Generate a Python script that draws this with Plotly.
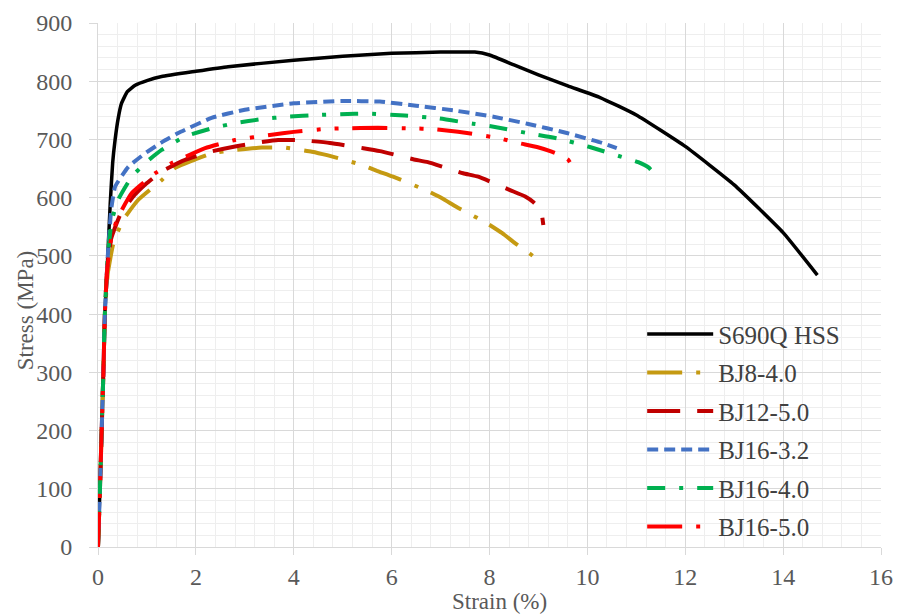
import plotly.graph_objects as go

# ---- data (strain %, stress MPa) ----
s690_x = [0, 0.04, 0.075, 0.11, 0.14, 0.2, 0.25, 0.3, 0.35, 0.41, 0.48, 0.6, 0.76, 1.0, 1.3, 2, 2.66, 4, 5, 6, 7, 7.7, 8, 8.5, 9, 9.6, 10.26, 11, 12, 13, 14, 14.7]
s690_y = [0, 100, 200, 300, 400, 500, 590, 660, 700, 735, 762, 782, 793, 801, 808, 817, 825, 836, 843, 848, 850, 850, 845, 828, 811, 792, 772, 742, 688, 622, 540, 467]

bj8_x = [0, 0.04, 0.075, 0.11, 0.14, 0.2, 0.31, 0.5, 0.82, 1.3, 1.57, 2.0, 2.32, 2.8, 3.35, 3.8, 4.37, 4.68, 5.4, 5.7, 6.03, 6.72, 7.03, 7.33, 7.95, 8.26, 8.52, 8.9, 8.97, 9.01]
bj8_y = [0, 100, 200, 300, 400, 470, 520, 560, 596, 630, 651, 666, 676, 682, 686, 686, 679, 673, 656, 646, 636, 612, 599, 584, 556, 539, 522, 499, 490, 484]

bj12_x = [0, 0.04, 0.075, 0.11, 0.14, 0.19, 0.27, 0.45, 0.7, 1.0, 1.3, 1.78, 2.3, 2.8, 3.3, 3.68, 4.1, 4.74, 5.42, 5.76, 6.44, 6.74, 7.46, 7.77, 8.42, 8.73, 8.9, 9.0, 9.07, 9.1]
bj12_y = [0, 100, 200, 300, 400, 480, 530, 570, 600, 625, 645, 665, 679, 688, 695, 699, 699, 694, 685, 680, 666, 661, 642, 636, 613, 602, 592, 583, 570, 553]

bj163_x = [0, 0.04, 0.075, 0.11, 0.14, 0.2, 0.27, 0.35, 0.62, 0.96, 1.3, 1.64, 2.32, 3.0, 4.0, 5.0, 5.76, 6.5, 7.26, 8.08, 8.77, 9.58, 10.3, 10.6]
bj163_y = [0, 100, 200, 300, 400, 500, 580, 619, 653, 676, 695, 711, 737, 751, 762, 766, 765, 758, 750, 739, 727, 711, 694, 685]

bj164_x = [0, 0.04, 0.075, 0.11, 0.14, 0.2, 0.28, 0.41, 0.69, 1.0, 1.3, 1.78, 2.32, 2.8, 3.35, 3.86, 4.5, 5.25, 5.6, 6.27, 6.97, 7.66, 8.0, 8.77, 9.38, 10.05, 10.7, 11.04, 11.25, 11.36, 11.4]
bj164_y = [0, 100, 200, 300, 400, 500, 560, 596, 636, 662, 682, 705, 719, 728, 735, 739, 742, 744, 744, 741, 736, 727, 723, 711, 702, 687, 670, 661, 652, 642, 628]

bj165_x = [0, 0.04, 0.075, 0.11, 0.14, 0.19, 0.27, 0.4, 0.69, 1.17, 1.5, 2.19, 2.8, 3.55, 4.0, 4.64, 5.0, 5.72, 6.44, 6.8, 7.17, 7.54, 8.2, 8.58, 8.97, 9.27, 9.5, 9.61, 9.68, 9.71]
bj165_y = [0, 100, 200, 300, 400, 480, 530, 565, 608, 642, 659, 685, 699, 708, 713, 718, 719, 720, 719, 718, 715, 711, 702, 694, 687, 679, 671, 665, 655, 645]

series = [
    ("S690Q HSS", s690_x, s690_y, "#000000", "solid", 3.5),
    ("BJ8-4.0", bj8_x, bj8_y, "#C59A12", "35px,14px,4px,14px", 4),
    ("BJ12-5.0", bj12_x, bj12_y, "#C00000", "33px,17px", 4),
    ("BJ16-3.2", bj163_x, bj163_y, "#4472C4", "11px,6px", 4),
    ("BJ16-4.0", bj164_x, bj164_y, "#00B050", "18px,14px,4px,14px", 4),
    ("BJ16-5.0", bj165_x, bj165_y, "#FF0000", "35px,14px,4px,14px,4px,14px", 4),
]

x_ticks = [0, 2, 4, 6, 8, 10, 12, 14, 16]
y_ticks = [0, 100, 200, 300, 400, 500, 600, 700, 800, 900]
x_title = "Strain (%)"
y_title = "Stress (MPa)"

fig = go.Figure()
for i, (name, xs, ys, col, dash, w) in enumerate(series):
    fig.add_trace(go.Scatter(x=xs, y=ys, mode="lines", name=name, legendgroup=f"g{i}",
                             line=dict(color=col, dash=dash, width=w, shape="spline", smoothing=0.4)))

font_family = "Liberation Serif"
grid = "#d9d9d9"
tickfont = dict(family=font_family, size=24, color="#595959")
titlefont = dict(family=font_family, size=23, color="#595959")
fig.update_layout(
    width=898, height=616,
    margin=dict(l=98, r=17, t=23, b=69, autoexpand=False),
    paper_bgcolor="white", plot_bgcolor="white",
    font=dict(family=font_family, size=24, color="#595959"),
    showlegend=True,
    legend=dict(x=0.695, y=0.45, xanchor="left", yanchor="top", bgcolor="rgba(0,0,0,0)",
                traceorder="grouped", tracegroupgap=3, itemwidth=66,
                font=dict(family=font_family, size=25, color="#404040")),
    xaxis=dict(range=[0, 16], tickvals=x_ticks, ticktext=[str(v) for v in x_ticks],
               showgrid=True, gridcolor=grid, gridwidth=1.3, automargin=False,
               minor=dict(dtick=0.4, showgrid=True, gridcolor="#eeeeee", gridwidth=1),
               ticks="outside", ticklen=7, tickcolor=grid, showline=True, linecolor=grid,
               zeroline=False, ticklabelstandoff=1, tickfont=tickfont),
    yaxis=dict(range=[0, 900], tickvals=y_ticks, ticktext=[str(v) for v in y_ticks],
               showgrid=True, gridcolor=grid, gridwidth=1.3, automargin=False,
               minor=dict(dtick=20, showgrid=True, gridcolor="#eeeeee", gridwidth=1),
               ticks="outside", ticklen=8, tickcolor=grid, showline=True, linecolor=grid,
               zeroline=False, ticklabelstandoff=12, tickfont=tickfont),
    annotations=[
        dict(text=x_title, xref="paper", yref="paper", x=0.513, y=-0.1035,
             xanchor="center", yanchor="middle", showarrow=False, font=titlefont),
        dict(text=y_title, xref="paper", yref="paper", x=-0.0932, y=0.45, textangle=-90,
             xanchor="center", yanchor="middle", showarrow=False, font=titlefont),
    ],
)

fig.write_html("out.html")
